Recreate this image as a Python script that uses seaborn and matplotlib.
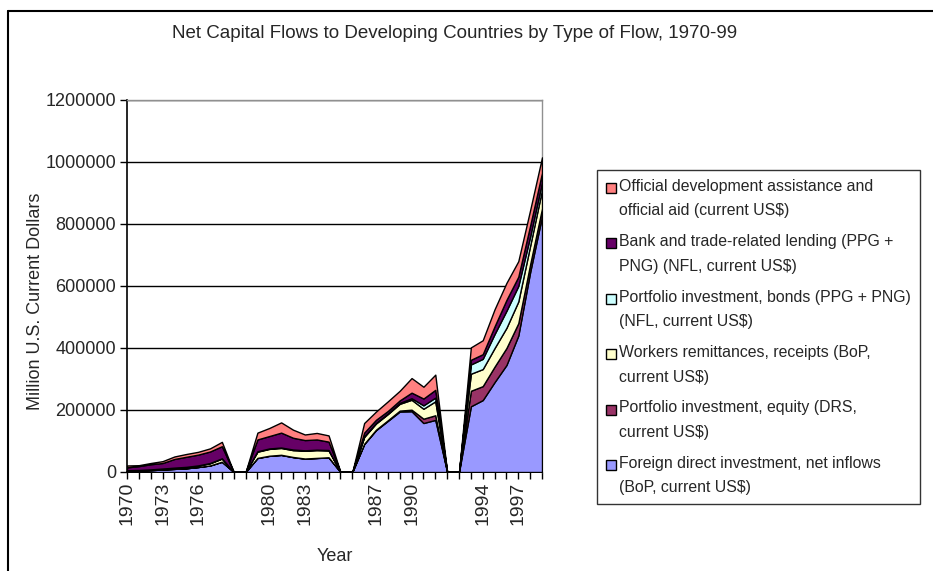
import matplotlib
matplotlib.use("Agg")
import matplotlib.pyplot as plt
import seaborn as sns
from matplotlib.patches import Patch, Rectangle
from matplotlib.lines import Line2D
from matplotlib.legend_handler import HandlerPatch

# ---------------- datos ----------------
# categorias del eje x (las filas vacias separan los bloques, Excel las dibuja en 0)
categorias = ["1970", "1971", "1972", "1973", "1974", "1975", "1976", "1977", "1978",
              "", "",
              "1979", "1980", "1981", "1982", "1983", "1984", "1985",
              "", "",
              "1986", "1987", "1988", "1989", "1990", "1991", "1992",
              "", "",
              "1993", "1994", "1995", "1996", "1997", "1998", "1999"]

fdi = [4000, 4500, 6000, 8000, 10000, 12000, 16000, 21000, 33000,
       0, 0,
       45000, 52000, 55000, 48000, 43000, 45000, 47000,
       0, 0,
       90000, 135000, 165000, 195000, 196000, 158000, 168000,
       0, 0,
       212000, 232000, 290000, 345000, 440000, 645000, 825000]
equity = [0, 0, 0, 0, 100, 100, 100, 200, 200,
          0, 0,
          500, 500, 500, 500, 500, 500, 500,
          0, 0,
          1000, 1500, 2000, 3000, 5000, 14000, 15000,
          0, 0,
          50000, 45000, 50000, 55000, 40000, 25000, 25000]
remesas = [1500, 1800, 2200, 2800, 3500, 4000, 4500, 7000, 10000,
           0, 0,
           20000, 22000, 22000, 22000, 25000, 25000, 22000,
           0, 0,
           22000, 20000, 20000, 22000, 32000, 32000, 45000,
           0, 0,
           55000, 55000, 60000, 65000, 70000, 60000, 60000]
bonos = [200, 300, 300, 400, 500, 500, 700, 800, 1000,
         0, 0,
         1500, 1500, 1500, 2000, 1500, 1500, 1500,
         0, 0,
         2000, 2000, 2000, 3000, 5000, 11000, 12000,
         0, 0,
         30000, 33000, 45000, 55000, 50000, 30000, 25000]
bancos = [9300, 12400, 16500, 17800, 28000, 32500, 34800, 37200, 39000,
          0, 0,
          38000, 40000, 48000, 38000, 33000, 33000, 27000,
          0, 0,
          12000, 10000, 8000, 8000, 18000, 22000, 25000,
          0, 0,
          15000, 15000, 25000, 35000, 30000, 35000, 30000]
aod = [6000, 3000, 4000, 6000, 8000, 9000, 9000, 10000, 14000,
       0, 0,
       22000, 26000, 33000, 26000, 18000, 21000, 20000,
       0, 0,
       31000, 26500, 31000, 31000, 47000, 38000, 49000,
       0, 0,
       40000, 45000, 55000, 55000, 50000, 50000, 50000]

nombres = ["Foreign direct investment, net inflows\n(BoP, current US$)",
           "Portfolio investment, equity (DRS,\ncurrent US$)",
           "Workers remittances, receipts (BoP,\ncurrent US$)",
           "Portfolio investment, bonds (PPG + PNG)\n(NFL, current US$)",
           "Bank and trade-related lending (PPG +\nPNG) (NFL, current US$)",
           "Official development assistance and\nofficial aid (current US$)"]
colores = ["#9999FF", "#993366", "#FFFFCC", "#CCFFFF", "#660066", "#FF8080"]


# cuadrito de la leyenda alineado con la primera linea del texto
class CuadritoArriba(HandlerPatch):
    def create_artists(self, legend, orig_handle, xdescent, ydescent,
                       width, height, fontsize, trans):
        lado = 0.62 * fontsize
        r = Rectangle((-xdescent, -ydescent + height - lado + 0.3 * fontsize), lado, lado,
                      facecolor=orig_handle.get_facecolor(), edgecolor="black",
                      linewidth=1.0, transform=trans)
        return [r]


# ---------------- grafico ----------------
sns.set_theme(style="white")
plt.rcParams['font.family'] = ['Liberation Sans', 'DejaVu Sans']

fig = plt.figure(figsize=(9.33, 5.71), dpi=100)
ax = fig.add_axes([127 / 933, 1 - 472 / 571, 415 / 933, 372 / 571])

x = list(range(len(categorias)))
ax.stackplot(x, fdi, equity, remesas, bonos, bancos, aod,
             colors=colores, edgecolor="black", linewidth=1.0, zorder=3)

ax.set_xlim(0, len(categorias) - 1)
ax.set_ylim(0, 1200000)
ax.set_yticks(range(0, 1200001, 200000))
ax.set_yticklabels([str(v) for v in range(0, 1200001, 200000)], fontsize=13)
ax.yaxis.grid(True, color="black", linewidth=1.0, zorder=1)
ax.xaxis.grid(False)

ax.set_xticks(x, minor=True)
ax.set_xticks(x[::3])
ax.set_xticklabels(categorias[::3], rotation=90, fontsize=14)
ax.tick_params(axis="x", which="both", direction="out", bottom=True, length=5, width=1, color="black", pad=2)
ax.tick_params(axis="y", direction="out", left=True, length=5, width=1, color="black", pad=3)

for lado in ["left", "bottom"]:
    ax.spines[lado].set_color("black")
    ax.spines[lado].set_linewidth(1.2)
for lado in ["top", "right"]:
    ax.spines[lado].set_color("#909090")
    ax.spines[lado].set_linewidth(1.0)

ax.set_ylabel("Million U.S. Current Dollars", fontsize=13)
ax.yaxis.set_label_coords(-0.20, 0.46)
ax.set_xlabel("Year", fontsize=13)
ax.xaxis.set_label_coords(0.5, -0.203)
fig.text(455 / 933, 1 - 33 / 571, "Net Capital Flows to Developing Countries by Type of Flow, 1970-99",
         ha="center", va="center", fontsize=13.5)

# leyenda en orden inverso (como Excel)
manejadores = [Patch(facecolor=c, edgecolor="black") for c in colores][::-1]
leg = fig.legend(manejadores, nombres[::-1], loc="upper left",
                 bbox_to_anchor=(597 / 933, 1 - 170 / 571), fontsize=11.4,
                 frameon=True, fancybox=False, shadow=False, borderpad=0.55,
                 handlelength=0.65, handleheight=1.9, handletextpad=0.2,
                 labelspacing=1.0, borderaxespad=0,
                 handler_map={Patch: CuadritoArriba()})
for t in leg.get_texts():
    t.set_linespacing(1.8)
leg.get_frame().set_edgecolor("black")
leg.get_frame().set_linewidth(1.0)

# marco exterior del grafico
fig.add_artist(Line2D([8 / 933, 1], [1 - 11 / 571, 1 - 11 / 571], color="black", linewidth=1.5))
fig.add_artist(Line2D([8 / 933, 8 / 933], [0, 1 - 11 / 571], color="black", linewidth=1.5))

fig.savefig("out.png", dpi=100)
